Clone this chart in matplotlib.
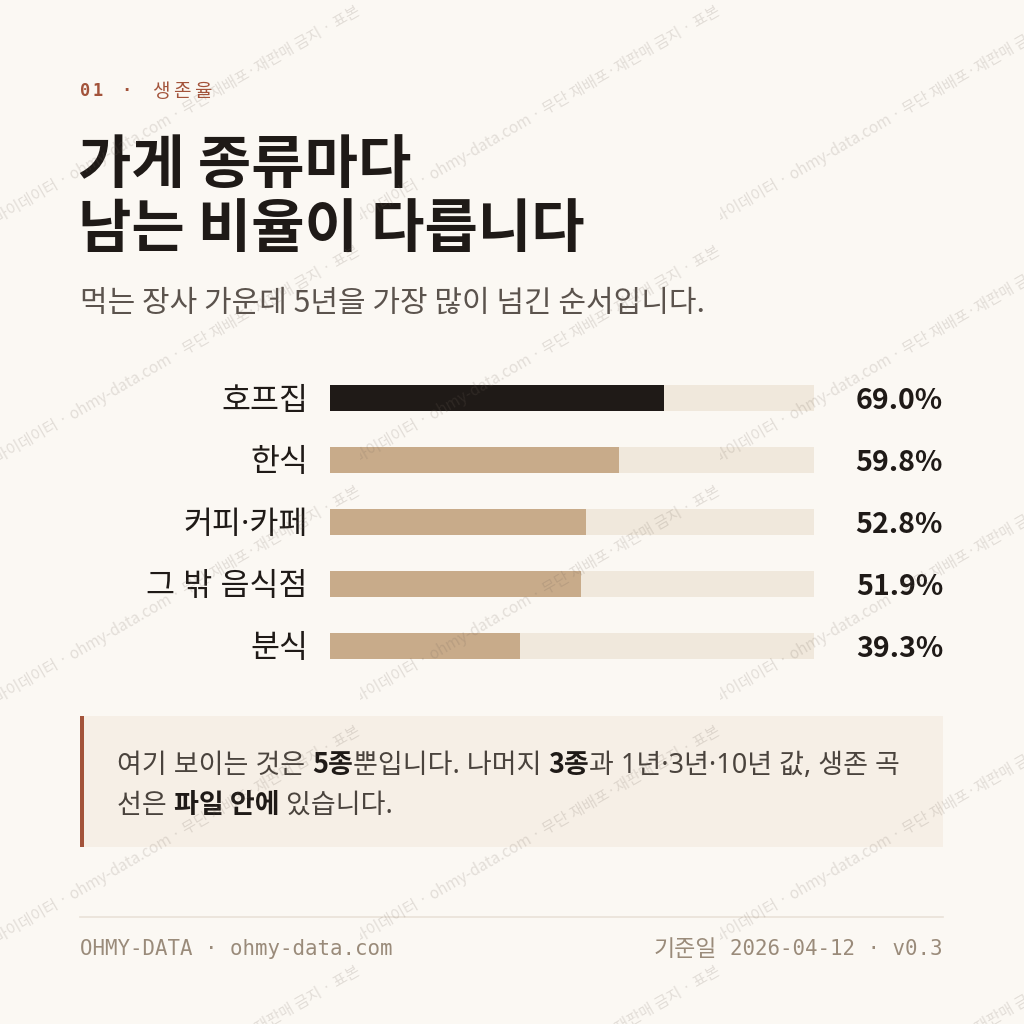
import matplotlib
matplotlib.use("Agg")
import matplotlib.pyplot as plt
from matplotlib.transforms import Bbox
from matplotlib.patches import Rectangle
import numpy as np

# ---------------- data ----------------
categories = ["호프집", "한식", "커피·카페", "그 밖 음식점", "분식"]
survival = [69.0, 59.8, 52.8, 51.9, 39.3]
value_labels = ["69.0%", "59.8%", "52.8%", "51.9%", "39.3%"]
highlight = "호프집"

eyebrow = "01 · 생존율"
title_lines = ["가게 종류마다", "남는 비율이 다릅니다"]
subtitle = "먹는 장사 가운데 5년을 가장 많이 넘긴 순서입니다."
note_line1 = [("여기 보이는 것은 ", False), ("5종", True), ("뿐입니다. 나머지 ", False),
              ("3종", True), ("과 1년·3년·10년 값, 생존 곡", False)]
note_line2 = [("선은 ", False), ("파일 안에", True), (" 있습니다.", False)]
footer_left = "OHMY-DATA · ohmy-data.com"
footer_right_k = "기준일"
footer_right_m = "2026-04-12 · v0.3"
watermark = "마이데이터 · ohmy-data.com · 무단 재배포·재판매 금지 · 표본"

# ---------------- style ----------------
BG = "#fbf8f3"
INK = "#1f1a17"
ACCENT = "#a3533a"
TRACK = "#f0e8dc"
FILL = "#c8ab8a"
SUB = "#5b534d"
NOTE_BG = "#f6efe6"
MUTED = "#9a8b7a"
KR = ["Noto Sans CJK KR", "DejaVu Sans"]
KRL = ["Noto Sans", "Noto Sans CJK KR"]
MONO = ["DejaVu Sans Mono", "Noto Sans CJK KR"]

W = H = 1024
fig = plt.figure(figsize=(W / 100, H / 100), dpi=100)
fig.patch.set_facecolor(BG)

PX = 0.72  # points per pixel at dpi 100


def fx(x):
    return x / W


def fy(y):
    return 1 - y / H


# overlay axes in pixel coordinates
ov = fig.add_axes([0, 0, 1, 1])
ov.set_xlim(0, W)
ov.set_ylim(H, 0)
ov.axis("off")
ov.set_zorder(0)

# ---- eyebrow ----
fig.text(fx(80), fy(96), "0", color=ACCENT, fontsize=17 * PX, family=MONO, weight="bold")
fig.text(fx(93), fy(96), "1", color=ACCENT, fontsize=17 * PX, family=MONO, weight="bold")
fig.text(fx(126), fy(96), "·", color=ACCENT, fontsize=17 * PX, family=MONO, weight="bold", ha="center")
for ch, x in zip("생존율", [152, 173, 194]):
    fig.text(fx(x), fy(97), ch, color=ACCENT, fontsize=19 * PX, family=KR)

# ---- title ----
fig.text(fx(78), fy(183), title_lines[0], color=INK, fontsize=58 * PX, family=KR, weight="bold")
fig.text(fx(78), fy(247), title_lines[1], color=INK, fontsize=58 * PX, family=KR, weight="bold")

# ---- subtitle ----
fig.text(fx(80), fy(312), subtitle, color=SUB, fontsize=30 * PX, family=KR)

# ---- bars ----
slot = 62
top = 398 - slot / 2
bx0, bx1 = 330, 814
axb = fig.add_axes([fx(bx0), fy(top + slot * 5), (bx1 - bx0) / W, slot * 5 / H])
axb.set_facecolor("none")
y = np.arange(len(categories))
axb.barh(y, [100] * len(categories), height=26 / slot, color=TRACK, zorder=1)
colors = [INK if c == highlight else FILL for c in categories]
axb.barh(y, survival, height=26 / slot, color=colors, zorder=2)
axb.set_xlim(0, 100)
axb.set_ylim(len(categories) - 0.5, -0.5)
axb.set_yticks(y)
axb.set_yticklabels(categories, family=KRL, fontsize=31.5 * PX, color=INK)
axb.tick_params(axis="y", length=0, pad=22 * PX)
axb.set_xticks([])
for s in axb.spines.values():
    s.set_visible(False)
for yi, lab in zip(y, value_labels):
    axb.annotate(lab, xy=(fx(943), yi), xycoords=("figure fraction", "data"),
                 ha="right", va="center_baseline", fontsize=28.5 * PX, family=KR,
                 weight="bold", color=INK)

# ---- note box ----
ov.add_patch(Rectangle((80, 716), 863, 131, facecolor=NOTE_BG, edgecolor="none", zorder=1))
ov.add_patch(Rectangle((80, 716), 3.5, 131, facecolor=ACCENT, edgecolor="none", zorder=2))

fig.canvas.draw()
renderer = fig.canvas.get_renderer()


def seg_width(s, **kw):
    a = fig.text(0, 0, "|" + s + "|", **kw)
    b = fig.text(0, 0, "||", **kw)
    w = a.get_window_extent(renderer).width - b.get_window_extent(renderer).width
    a.remove()
    b.remove()
    return w


def rich(x, ybase, segs, size):
    for s, bold in segs:
        kw = dict(fontsize=size * PX, family=KR if bold else KRL,
                  weight="bold" if bold else "normal",
                  color=INK if bold else "#4a433d")
        fig.text(fx(x), fy(ybase), s, **kw)
        x += seg_width(s, **kw)


rich(117, 773, note_line1, 27)
rich(117, 813, note_line2, 27)

# ---- footer ----
ov.plot([80, 943], [917, 917], color="#e9e2d8", lw=1.2)
fig.text(fx(80), fy(955), footer_left, color=MUTED, fontsize=20.8 * PX, family=MONO)
fig.text(fx(943), fy(955), footer_right_m, color=MUTED, fontsize=20.8 * PX, family=MONO, ha="right")
kw = dict(fontsize=20.8 * PX, family=MONO)
wm = seg_width(footer_right_m, **kw)
fig.text(fx(943 - wm - 14), fy(956), footer_right_k, color=MUTED, fontsize=23 * PX, family=KR, ha="right")

# ---- watermark tiles ----
tw, th = 360, 240
for row in range(-1, 5):
    ty = row * th
    for col in range(3):
        tx = col * tw
        t = fig.text(fx(tx - 2), fy(ty + 224), watermark, rotation=30, rotation_mode="anchor",
                     ha="left", va="baseline", fontsize=15.5 * PX, family=KR,
                     color=(0.45, 0.40, 0.36, 0.18), zorder=10)
        t.set_clip_box(Bbox.from_extents(tx, H - (ty + th), tx + tw, H - ty))
        t.set_clip_on(True)

fig.savefig("out.png", dpi=100, facecolor=BG)
